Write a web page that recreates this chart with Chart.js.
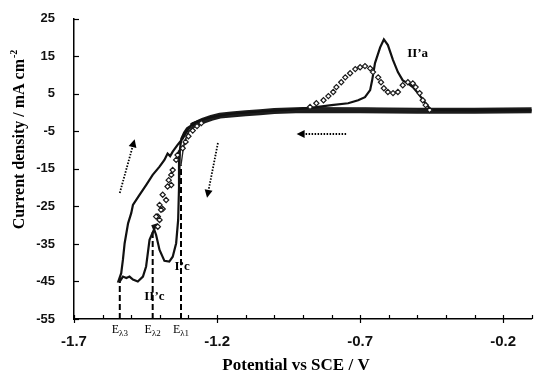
<!DOCTYPE html>
<html>
<head>
<meta charset="utf-8">
<script src="https://cdn.jsdelivr.net/npm/chart.js@4.4.0/dist/chart.umd.min.js"></script>
<style>
html,body{margin:0;padding:0;background:#fff;}
</style>
</head>
<body>
<canvas id="cv" width="537" height="376"></canvas>
<script>
// ticks
var potencialTicks = [-1.7, -1.2, -0.7, -0.2];
var potencialMinor = [-1.6, -1.5, -1.4, -1.3, -1.1, -1.0, -0.9, -0.8, -0.6, -0.5, -0.4, -0.3, -0.1];
var corrienteTicks = [-55, -45, -35, -25, -15, -5, 5, 15, 25];

// banda gruesa de todos los barridos sobre la linea base
var bandaE = [-0.1, -0.3, -0.5, -0.7, -0.9, -1.0, -1.05, -1.1, -1.15, -1.19, -1.22, -1.25, -1.27, -1.29];
var bandaJ = [0.6, 0.5, 0.5, 0.6, 0.7, 0.4, 0.1, -0.2, -0.5, -0.8, -1.4, -2.2, -2.9, -3.6];

// barrido hasta E lambda 3 (linea continua)
var barrido3E = [-1.26, -1.29, -1.305, -1.315, -1.325, -1.33, -1.333, -1.336, -1.343, -1.355, -1.367, -1.384, -1.401, -1.413, -1.419, -1.425, -1.413,
  -1.436, -1.448, -1.459, -1.477, -1.494, -1.506, -1.517, -1.529, -1.54, -1.545,
  -1.535, -1.529, -1.523, -1.511, -1.5, -1.494, -1.471, -1.448, -1.425, -1.401, -1.384, -1.373, -1.364, -1.355, -1.338, -1.32, -1.303, -1.286, -1.26, -1.22, -1.15, -1.05, -0.95, -0.88,
  -0.8, -0.742, -0.707, -0.683, -0.665, -0.658, -0.648, -0.63, -0.617, -0.603, -0.585, -0.568, -0.551, -0.533, -0.516, -0.498, -0.474, -0.453, -0.3, -0.1];
var barrido3J = [-2.6, -3.4, -4.2, -5.3, -7.0, -10.0, -20.0, -28.6, -34.8, -38.4, -39.7, -39.5, -36.6, -32.6, -31.3, -30.2, -29.9,
  -33.9, -41.0, -43.7, -45.0, -44.5, -43.7, -44.1, -43.7, -45.0, -45.0,
  -42.8, -39.2, -34.8, -29.5, -26.8, -24.6, -21.9, -19.3, -16.6, -14.4, -12.6, -10.9, -11.6, -10.4, -8.6, -6.9, -4.7, -2.9, -2.1, -1.2, -0.3, 0.3, 0.7, 1.2,
  2.0, 2.5, 3.3, 4.1, 6.0, 8.6, 13.2, 17.4, 19.5, 18.0, 14.0, 10.8, 8.6, 7.8, 6.8, 5.2, 2.8, 0.7, 0.6, 0.6];

// barrido hasta E lambda 1 (linea fina)
var barrido1E = [-1.25, -1.28, -1.3, -1.315, -1.326, -1.318, -1.305, -1.29, -1.27, -1.24, -1.2, -1.1, -0.95, -0.87, -0.75, -0.68, -0.6, -0.5];
var barrido1J = [-2.4, -3.6, -5.0, -8.0, -14.0, -9.5, -6.0, -4.0, -3.0, -2.0, -1.1, -0.2, 0.5, 0.9, 1.0, 1.1, 1.0, 0.7];

// barrido hasta E lambda 2 (rombos)
var rombosE = [-1.255, -1.27, -1.285, -1.3, -1.31, -1.32, -1.338, -1.343, -1.355, -1.36, -1.369, -1.36, -1.373, -1.39, -1.378, -1.401, -1.39, -1.396, -1.407, -1.413, -1.401, -1.407,
  -0.875, -0.853, -0.828, -0.811, -0.794, -0.783, -0.766, -0.752, -0.735, -0.717, -0.7, -0.683, -0.665, -0.655, -0.637, -0.627, -0.617, -0.603,
  -0.585, -0.568, -0.551, -0.533, -0.516, -0.506, -0.492, -0.481, -0.471, -0.457];
var rombosJ = [-2.8, -3.6, -4.8, -6.3, -7.8, -9.5, -11.3, -12.6, -15.3, -16.6, -18.0, -19.3, -19.7, -21.9, -23.3, -24.6, -25.7, -25.9, -27.7, -27.7, -28.6, -30.4,
  1.5, 2.5, 3.3, 4.4, 5.5, 6.8, 8.1, 9.4, 10.5, 11.6, 12.1, 12.4, 11.8, 10.8, 9.4, 8.1, 6.5, 5.5,
  5.2, 5.5, 7.3, 8.1, 7.8, 6.8, 5.2, 3.3, 2.0, 0.7];

// potenciales de inversion
var inversionE = [-1.54, -1.425, -1.326];
var inversionJ = [-45.0, -31.3, -14.0];
var inversionSub = ['\u03bb3', '\u03bb2', '\u03bb1'];

function pares(ex, jy){
	var datos = [];
	for(var i = 0 ; i < ex.length ; i++){
		datos.push({x: ex[i], y: jy[i]});
	}
	return datos;
}

var datasets = [];
datasets.push({data: pares(rombosE, rombosJ), showLine: false, pointStyle: 'rectRot', pointRadius: 2.6,
	pointBorderWidth: 1.2, pointBorderColor: '#1a1a1a', pointBackgroundColor: '#fff', order: 0});
datasets.push({data: pares(barrido3E, barrido3J), showLine: true, borderColor: '#111', borderWidth: 2.2, pointRadius: 0, order: 1});
datasets.push({data: pares(barrido1E, barrido1J), showLine: true, borderColor: '#222', borderWidth: 1.3, pointRadius: 0, order: 1});
datasets.push({data: pares(bandaE, bandaJ), showLine: true, borderColor: '#1c1c1c', borderWidth: 6, pointRadius: 0, order: 2});
for(var k = 0 ; k < inversionE.length ; k++){
	datasets.push({data: [{x: inversionE[k], y: -55}, {x: inversionE[k], y: inversionJ[k]}], showLine: true,
		borderColor: '#000', borderWidth: 2, borderDash: [6, 3], pointRadius: 0, order: 3});
}

// etiquetas sobre el grafico
var etiquetas = [
	{t: 'II\u2019a', x: -0.499, y: 15.8},
	{t: 'I\u2019c', x: -1.322, y: -41.0},
	{t: 'II\u2019c', x: -1.419, y: -49.1}
];
var flechas = [
	{x0: -1.54, y0: -21.4, x1: -1.488, y1: -7.1},
	{x0: -1.197, y0: -8.1, x1: -1.235, y1: -22.7},
	{x0: -0.749, y0: -5.7, x1: -0.922, y1: -5.7}
];

var decoracion = {
	id: 'decoracion',
	afterDraw: function(chart){
		var ctx = chart.ctx;
		var xs = chart.scales.x, ys = chart.scales.y;
		var base = ys.getPixelForValue(-55);
		ctx.save();
		ctx.strokeStyle = '#000';
		ctx.lineWidth = 1.2;
		// marcas eje x
		potencialMinor.forEach(function(v){
			var px = Math.round(xs.getPixelForValue(v)) + 0.5;
			ctx.beginPath(); ctx.moveTo(px, base); ctx.lineTo(px, base - 4); ctx.stroke();
		});
		potencialTicks.forEach(function(v){
			var px = Math.round(xs.getPixelForValue(v)) + 0.5;
			ctx.beginPath(); ctx.moveTo(px, base - 4); ctx.lineTo(px, base + 4); ctx.stroke();
		});
		// marcas eje y
		corrienteTicks.forEach(function(v){
			var py = Math.round(ys.getPixelForValue(v)) + 0.5;
			ctx.beginPath(); ctx.moveTo(xs.left, py); ctx.lineTo(xs.left + 5, py); ctx.stroke();
		});

		// titulo eje y
		ctx.fillStyle = '#000';
		ctx.font = 'bold 16px "Liberation Serif"';
		var t1 = 'Current density / mA cm';
		var w1 = ctx.measureText(t1).width;
		ctx.font = 'bold 10px "Liberation Serif"';
		var w2 = ctx.measureText('-2').width;
		ctx.save();
		ctx.translate(24, 140);
		ctx.rotate(-Math.PI / 2);
		ctx.textBaseline = 'alphabetic';
		ctx.textAlign = 'left';
		var sx = -(w1 + w2) / 2;
		ctx.font = 'bold 16px "Liberation Serif"';
		ctx.fillText(t1, sx, 0);
		ctx.font = 'bold 10px "Liberation Serif"';
		ctx.fillText('-2', sx + w1 + 1, -7);
		ctx.restore();

		// titulo eje x
		ctx.font = 'bold 17px "Liberation Serif"';
		ctx.textAlign = 'center';
		ctx.textBaseline = 'middle';
		ctx.fillText('Potential vs SCE / V', 296, 366);

		// etiquetas de picos
		ctx.font = 'bold 13px "Liberation Serif"';
		etiquetas.forEach(function(e){
			ctx.fillText(e.t, xs.getPixelForValue(e.x), ys.getPixelForValue(e.y));
		});

		// E lambda
		inversionE.forEach(function(v, i){
			var px = xs.getPixelForValue(v);
			ctx.font = '12px "Liberation Serif"';
			var we = ctx.measureText('E').width;
			ctx.font = '9px "Liberation Serif"';
			var ws = ctx.measureText(inversionSub[i]).width;
			var x0 = px - (we + ws) / 2;
			ctx.textAlign = 'left';
			ctx.textBaseline = 'alphabetic';
			ctx.font = '12px "Liberation Serif"';
			ctx.fillText('E', x0, 333);
			ctx.font = '9px "Liberation Serif"';
			ctx.fillText(inversionSub[i], x0 + we, 336);
		});

		// flechas punteadas
		flechas.forEach(function(f){
			var ax = xs.getPixelForValue(f.x0), ay = ys.getPixelForValue(f.y0);
			var bx = xs.getPixelForValue(f.x1), by = ys.getPixelForValue(f.y1);
			var ang = Math.atan2(by - ay, bx - ax);
			var hl = 8;
			ctx.setLineDash([1.5, 1.5]);
			ctx.lineWidth = 1.8;
			ctx.beginPath();
			ctx.moveTo(ax, ay);
			ctx.lineTo(bx - hl * Math.cos(ang), by - hl * Math.sin(ang));
			ctx.stroke();
			ctx.setLineDash([]);
			ctx.beginPath();
			ctx.moveTo(bx, by);
			ctx.lineTo(bx - hl * Math.cos(ang) + 4 * Math.sin(ang), by - hl * Math.sin(ang) - 4 * Math.cos(ang));
			ctx.lineTo(bx - hl * Math.cos(ang) - 4 * Math.sin(ang), by - hl * Math.sin(ang) + 4 * Math.cos(ang));
			ctx.closePath();
			ctx.fill();
		});
		ctx.restore();
	}
};

var grafica = new Chart(document.getElementById('cv'), {
	type: 'scatter',
	data: {datasets: datasets},
	options: {
		responsive: false,
		animation: false,
		layout: {padding: {top: 18, right: 1, left: 0, bottom: 0}},
		plugins: {legend: {display: false}, tooltip: {enabled: false}},
		elements: {line: {tension: 0}},
		scales: {
			x: {
				type: 'linear', min: -1.7, max: -0.1,
				grid: {display: false},
				border: {display: true, color: '#000', width: 1.5},
				afterBuildTicks: function(s){ s.ticks = potencialTicks.map(function(v){ return {value: v}; }); },
				afterFit: function(s){ s.height = 57; },
				ticks: {
					padding: 6, color: '#111',
					font: {family: 'Liberation Sans', weight: 'bold', size: 15},
					callback: function(v){ return v.toFixed(1); }
				}
			},
			y: {
				type: 'linear', min: -55, max: 25,
				grid: {display: false},
				border: {display: true, color: '#000', width: 1.5},
				afterBuildTicks: function(s){ s.ticks = corrienteTicks.map(function(v){ return {value: v}; }); },
				afterFit: function(s){ s.width = 74; },
				ticks: {
					padding: 11, color: '#111',
					font: {family: 'Liberation Sans', weight: 'bold', size: 13},
					callback: function(v){ return String(v); }
				}
			}
		}
	},
	plugins: [decoracion]
});
</script>
</body>
</html>
